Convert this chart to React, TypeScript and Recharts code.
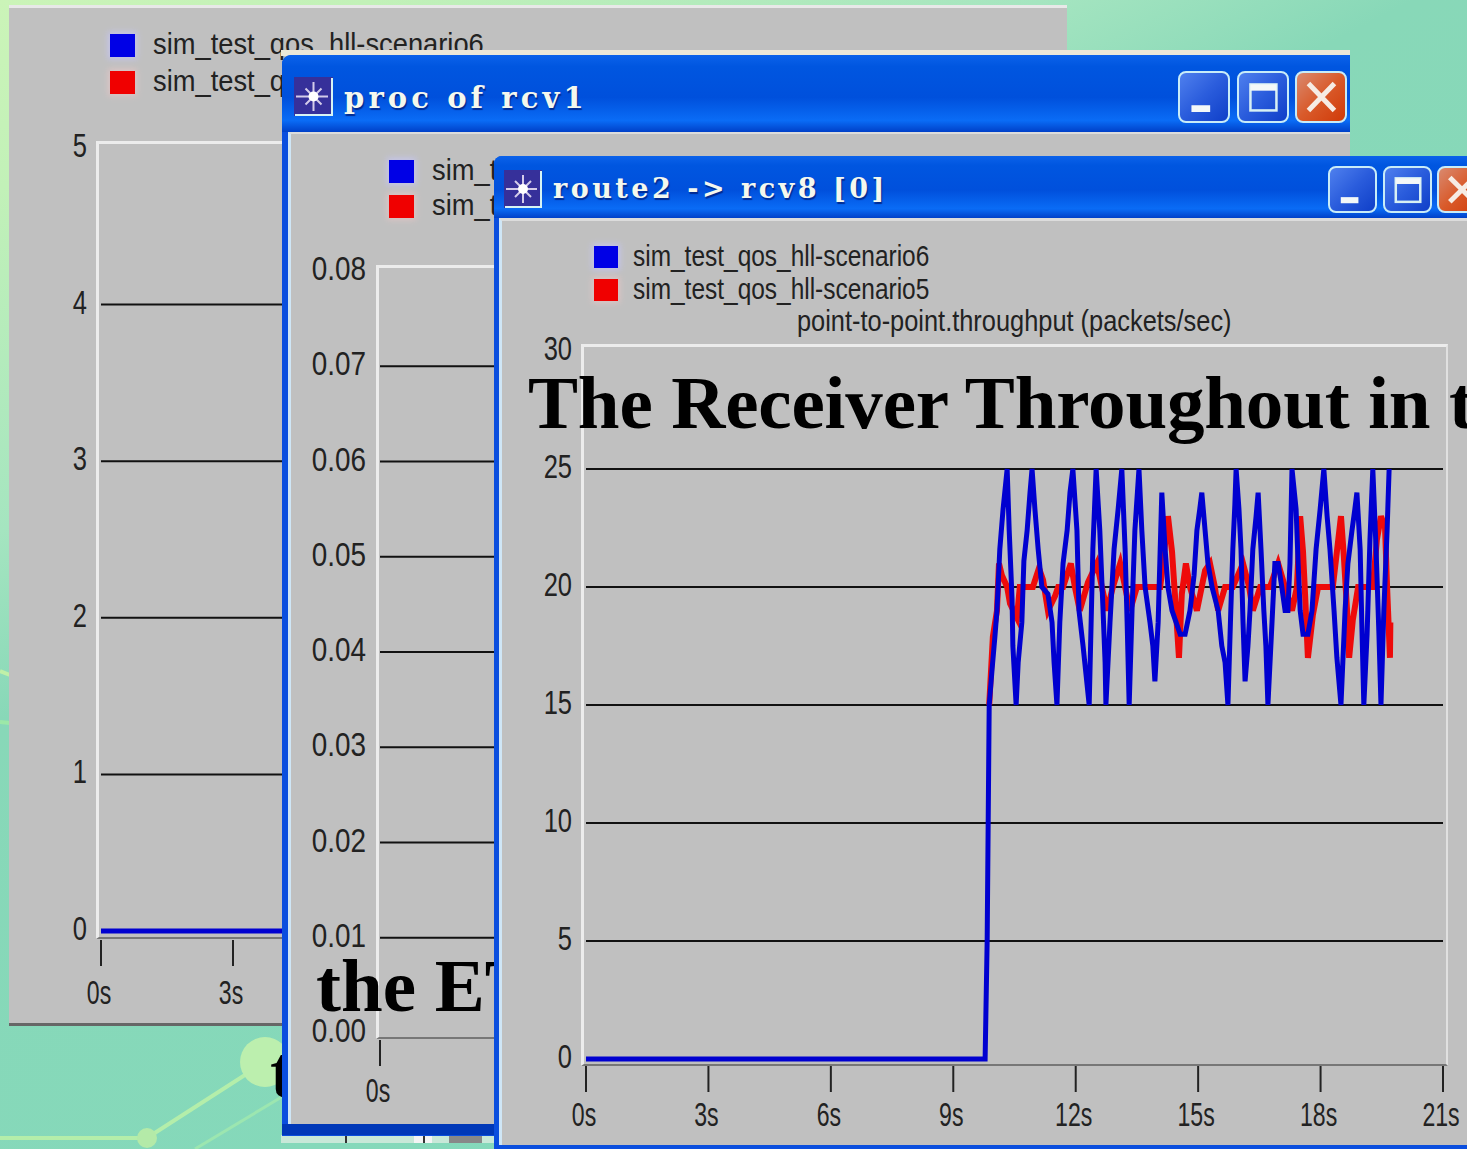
import * as React from "react"
import { LineChart, Line, XAxis, YAxis, CartesianGrid } from "recharts"

// route2 -> rcv8 throughput
const blueTimes = [0, 9.78, 9.83, 9.88, 9.95, 10.02, 10.07, 10.14, 10.22, 10.32, 10.37, 10.44, 10.46, 10.54, 10.59, 10.68, 10.73, 10.81, 10.88, 10.93, 11.0, 11.08, 11.17, 11.32, 11.42, 11.47, 11.54, 11.61, 11.69, 11.79, 11.86, 11.93, 12.03, 12.08, 12.18, 12.33, 12.42, 12.5, 12.59, 12.67, 12.72, 12.74, 12.84, 12.94, 13.04, 13.13, 13.21, 13.26, 13.31, 13.38, 13.45, 13.55, 13.62, 13.7, 13.82, 13.89, 13.94, 14.02, 14.07, 14.11, 14.19, 14.26, 14.36, 14.46, 14.56, 14.68, 14.8, 14.9, 14.97, 15.04, 15.09, 15.17, 15.24, 15.34, 15.49, 15.58, 15.66, 15.73, 15.8, 15.85, 15.9, 15.93, 16.0, 16.05, 16.1, 16.15, 16.22, 16.27, 16.34, 16.42, 16.47, 16.54, 16.61, 16.66, 16.71, 16.81, 16.88, 16.96, 17.05, 17.13, 17.2, 17.25, 17.3, 17.4, 17.45, 17.5, 17.57, 17.69, 17.79, 17.89, 17.99, 18.08, 18.16, 18.23, 18.33, 18.4, 18.5, 18.6, 18.67, 18.77, 18.84, 18.89, 18.97, 19.01, 19.06, 19.14, 19.21, 19.28, 19.36, 19.43, 19.48, 19.55, 19.63, 19.68]
const blueValues = [0, 0, 5, 15, 16.5, 17.9, 19, 21.6, 23.3, 25, 22.4, 19.5, 17.5, 15, 16.8, 18.5, 21.1, 22.4, 24, 25, 23.3, 21.6, 20, 19.7, 18.5, 16.8, 15, 18.5, 21, 22.4, 24, 25, 22.4, 19, 17.5, 15, 21.6, 25, 22.4, 19, 16.8, 15, 18.5, 21.6, 23.3, 25, 21.6, 18.5, 15, 19, 22.4, 25, 22.4, 20, 18.5, 17.5, 16, 18.5, 21.6, 24, 21.6, 20, 19, 18.5, 18, 18, 19, 20.5, 22.4, 23.3, 24, 22.4, 21, 20, 19, 17.5, 16.8, 15, 19, 21.6, 23.5, 25, 23.3, 21.6, 18.5, 16, 17.5, 19, 21.6, 23, 24, 21.6, 19, 17.5, 15, 18.5, 21, 21, 20, 19, 19, 21, 25, 23.3, 21, 19, 18, 18, 19, 21.6, 23.3, 25, 23, 21.6, 19, 17, 15, 19, 21, 22.4, 23.3, 24, 21.6, 18.5, 15, 18, 22, 25, 21.6, 18, 15, 19, 22.4, 25]

const redTimes = [9.88, 9.97, 10.07, 10.12, 10.19, 10.32, 10.39, 10.56, 10.63, 10.76, 10.95, 11.1, 11.2, 11.32, 11.49, 11.57, 11.69, 11.88, 11.98, 12.1, 12.3, 12.52, 12.64, 12.77, 12.91, 13.09, 13.21, 13.33, 13.5, 14.07, 14.14, 14.26, 14.36, 14.43, 14.53, 14.6, 14.7, 14.8, 14.97, 15.17, 15.29, 15.41, 15.49, 15.66, 15.85, 16.1, 16.25, 16.34, 16.52, 16.76, 16.96, 17.13, 17.3, 17.42, 17.5, 17.57, 17.62, 17.69, 17.81, 17.94, 18.3, 18.4, 18.5, 18.57, 18.65, 18.7, 18.79, 18.92, 19.28, 19.38, 19.48, 19.58, 19.63, 19.7, 19.71]
const redValues = [15, 17.9, 19, 21, 20.5, 20, 19.3, 18.7, 20, 20, 20, 20.8, 20.3, 19, 19.6, 20, 20, 21, 20, 19, 20.2, 21, 20, 19, 20, 21, 20, 19, 20, 20, 21, 23, 21.5, 19.7, 17, 19.7, 21, 20, 19, 20.7, 21, 20, 19, 20, 20, 21, 20, 19, 20, 20, 21, 20, 19, 20, 23, 21.5, 19.7, 17, 18.8, 20, 20, 21.5, 23, 21.3, 19, 17, 18.6, 20, 20, 22, 23, 22.5, 20, 17, 18.5]

// the back window only shows its flat start
const flatTimes = [0, 21]
const backValues = [0, 0]
// rcv1 shows nothing left of the front window
const procTimes = [10, 20]
const procValues = [0, 0]

const seriesNames = ["sim_test_qos_hll-scenario6", "sim_test_qos_hll-scenario5"]
const timeTicks = [0, 3, 6, 9, 12, 15, 18, 21]
const backTicks = [0, 1, 2, 3, 4, 5]
const procTicks = [0, 0.01, 0.02, 0.03, 0.04, 0.05, 0.06, 0.07, 0.08]
const procLabels = ["0.00", "0.01", "0.02", "0.03", "0.04", "0.05", "0.06", "0.07", "0.08"]
const routeTicks = [0, 5, 10, 15, 20, 25, 30]

const zip = (ts: number[], vs: number[]) => ts.map((t, i) => ({ t, v: vs[i] }))

const GRAY = "#c0c0c0"
const BLUE = "#0000d0"
const RED = "#ee0a0a"
const sansFont = "'Liberation Sans', Arial, sans-serif"
const AXIS_W = 60
const AXIS_H = 60

const abs = (left: number, top: number, width: number, height: number): React.CSSProperties => ({
  position: "absolute", left, top, width, height,
})

function XTick({ x, payload, plotBottom, tickShift, labelShift }: any) {
  return (
    <g>
      <line x1={x} x2={x} y1={plotBottom + 7 + tickShift} y2={plotBottom + 33 + tickShift} stroke="#222" strokeWidth={2} />
      <text transform={`translate(${x - 2} ${plotBottom + 67 + labelShift}) scale(0.7 1)`} textAnchor="middle" fontFamily={sansFont} fontSize={33} fill="#222">
        {payload.value}s
      </text>
    </g>
  )
}

function YTick({ y, payload, labels, values, plotLeft }: any) {
  const i = values.indexOf(payload.value)
  return (
    <text transform={`translate(${plotLeft - 14} ${y + 9}) scale(${labels ? 0.82 : 0.75} 1)`} textAnchor="end" fontFamily={sansFont} fontSize={34} fill="#222">
      {labels ? labels[i] : payload.value}
    </text>
  )
}

interface SimChartProps {
  left: number
  right: number
  top: number
  bottom: number
  frame: { left: number; top: number; right: number; bottom: number }
  domain: [number, number]
  ticks: number[]
  labels?: string[]
  grid: number[]
  tickShift?: number
  labelShift?: number
  series: { data: { t: number; v: number }[]; color: string; width: number }[]
}

// one OPNET style panel, the svg covers the page so margins are page coordinates
function SimChart({ left, right, top, bottom, frame, domain, ticks, labels, grid, tickShift = 0, labelShift = 0, series }: SimChartProps) {
  return (
    <>
      <div style={{
        ...abs(frame.left, frame.top, frame.right - frame.left, frame.bottom - frame.top),
        boxSizing: "border-box",
        borderLeft: "3px solid #ececec",
        borderTop: "3px solid #ececec",
        borderRight: "2px solid #e0e0e0",
        borderBottom: "2px solid #777",
      }} />
      <div style={abs(0, 0, 1467, 1149)}>
        <LineChart
          width={1467}
          height={1149}
          margin={{ left: left - AXIS_W, top, right: 1467 - right, bottom: 1149 - bottom - AXIS_H }}
        >
          <CartesianGrid vertical={false} horizontalValues={grid} stroke="#111" strokeWidth={2} />
          <XAxis
            dataKey="t"
            type="number"
            domain={[0, 21]}
            ticks={timeTicks}
            interval={0}
            height={AXIS_H}
            axisLine={false}
            tickLine={false}
            tick={(p: any) => <XTick {...p} plotBottom={bottom} tickShift={tickShift} labelShift={labelShift} />}
          />
          <YAxis
            type="number"
            domain={domain}
            ticks={ticks}
            interval={0}
            width={AXIS_W}
            axisLine={false}
            tickLine={false}
            tick={(p: any) => <YTick {...p} labels={labels} values={ticks} plotLeft={left} />}
          />
          {series.map((s, i) => (
            <Line
              key={i}
              data={s.data}
              dataKey="v"
              type="linear"
              stroke={s.color}
              strokeWidth={s.width}
              strokeLinejoin="miter"
              dot={false}
              isAnimationActive={false}
            />
          ))}
        </LineChart>
      </div>
    </>
  )
}

function NarrowText({ x, y, children, scale = 0.815, size = 30 }: { x: number; y: number; children: React.ReactNode; scale?: number; size?: number }) {
  return (
    <div style={{
      position: "absolute", left: x, top: y - size * 0.6, whiteSpace: "nowrap", lineHeight: 1.2,
      fontFamily: sansFont, fontSize: size, color: "#222",
      transform: `scaleX(${scale})`, transformOrigin: "left center",
    }}>
      {children}
    </div>
  )
}

function ChartLegend({ x, y1, y2, textX, size, textScale }: { x: number; y1: number; y2: number; textX: number; size: number; textScale?: number }) {
  return (
    <>
      <div style={{ ...abs(x, y1 - size / 2, size + 2, size), background: "#0000e6", boxShadow: "0 0 6px 2px #c4c4ec" }} />
      <div style={{ ...abs(x, y2 - size / 2, size + 2, size), background: "#f00000", boxShadow: "0 0 6px 2px #ddc4c4" }} />
      <NarrowText x={textX} y={y1 - 1} scale={textScale}>{seriesNames[0]}</NarrowText>
      <NarrowText x={textX} y={y2 - 1} scale={textScale}>{seriesNames[1]}</NarrowText>
    </>
  )
}

function Icon({ x, y, size }: { x: number; y: number; size: number }) {
  const c = size / 2
  return (
    <svg style={abs(x, y, size, size)} viewBox={`0 0 ${size} ${size}`}>
      <rect width={size} height={size} fill="#36309a" />
      <path d={`M1 ${size - 1} H${size - 1} V1`} fill="none" stroke="#d8f4f4" strokeWidth={2} />
      <path d={`M2 ${c} H${size - 5} M${c} 5 V${size - 5} M${c - 8} ${c - 8} L${c + 8} ${c + 8} M${c + 8} ${c - 8} L${c - 8} ${c + 8}`} stroke="#f0e8f8" strokeWidth={2} opacity={0.85} />
      <circle cx={c} cy={c} r={5} fill="#fff" />
    </svg>
  )
}

function XpButton({ x, y, w, h, kind }: { x: number; y: number; w: number; h: number; kind: "min" | "max" | "close" }) {
  const bg = kind === "close"
    ? "linear-gradient(135deg,#d98a70,#d95a2a 50%,#d03a08)"
    : "linear-gradient(135deg,#4f80ee,#2a5cdc 50%,#0f3fc8)"
  return (
    <div style={{ ...abs(x, y, w, h), boxSizing: "border-box", border: "2px solid #c8ecf8", borderRadius: 8, background: bg }}>
      <svg width={w - 4} height={h - 4} style={{ display: "block" }}>
        {kind === "min" && <rect x={w * 0.22} y={h * 0.62} width={w * 0.36} height={h * 0.13} fill="#f4f8f8" />}
        {kind === "max" && (
          <g>
            <rect x={w * 0.22} y={h * 0.22} width={w * 0.5} height={h * 0.5} fill="none" stroke="#d8f0f4" strokeWidth={2.5} />
            <rect x={w * 0.22} y={h * 0.22} width={w * 0.5} height={h * 0.12} fill="#f4f8f8" />
          </g>
        )}
        {kind === "close" && (
          <path d={`M${w * 0.22} ${h * 0.2} L${w * 0.72} ${h * 0.72} M${w * 0.72} ${h * 0.2} L${w * 0.22} ${h * 0.72}`} stroke="#f6ece4" strokeWidth={5} />
        )}
      </svg>
    </div>
  )
}

function Title({ x, y, size, spacing, children }: { x: number; y: number; size: number; spacing: number; children: string }) {
  return (
    <div style={{
      position: "absolute", left: x, top: y - size * 0.62, lineHeight: 1.2, whiteSpace: "pre",
      fontFamily: "'DejaVu Serif', serif", fontWeight: 700, fontSize: size, letterSpacing: spacing,
      color: "#f4f8ee", textShadow: "1px 2px 1px #002a90",
    }}>
      {children}
    </div>
  )
}

const barGradient = "linear-gradient(to bottom,#0b62ea 0%,#0056e0 15%,#0050dc 55%,#0a6cf6 85%,#0040c8 100%)"
const bigText: React.CSSProperties = {
  position: "absolute", fontFamily: "'Liberation Serif', serif", fontWeight: 700, fontSize: 75,
  color: "#000", lineHeight: 1.2, whiteSpace: "nowrap",
}

export default function App() {
  return (
    <div style={{
      ...abs(0, 0, 1467, 1149),
      overflow: "hidden",
      background: "linear-gradient(153deg,#cbf4b8 0%,#c2f1b8 10%,#a5e5c0 28%,#88d8b8 38%,#82d9bc 100%)",
    }}>
      {/* slide decoration */}
      <svg style={abs(0, 0, 1467, 1149)}>
        <path d="M0 1138 H147 L265 1062" fill="none" stroke="#b4eeaa" strokeWidth={4} />
        <path d="M195 1149 L285 1095" fill="none" stroke="#9ce6b0" strokeWidth={3} />
        <circle cx={147} cy={1138} r={10} fill="#b4eaa8" />
        <circle cx={265} cy={1062} r={25} fill="#bcefae" />
        <path d="M0 671 L10 675" stroke="#c0f0a8" strokeWidth={4} />
        <path d="M0 722 L10 723" stroke="#9ce8a8" strokeWidth={4} />
      </svg>
      <div style={{ ...bigText, left: 270, top: 1027 }}>t</div>

      {/* back window */}
      <div style={{ ...abs(9, 5, 1058, 1021), background: GRAY, boxSizing: "border-box", borderTop: "3px solid #e8e8e8", borderBottom: "3px solid #666" }} />
      <ChartLegend x={110} y1={45} y2={82} textX={153} size={23} textScale={0.91} />
      <SimChart
        left={101}
        right={1025}
        top={148}
        bottom={931}
        frame={{ left: 96, top: 141, right: 1040, bottom: 939 }}
        domain={[0, 5]}
        ticks={backTicks}
        grid={[1, 2, 3, 4]}
        tickShift={2}
        labelShift={6}
        series={[{ data: zip(flatTimes, backValues), color: BLUE, width: 5 }]}
      />

      {/* proc of rcv1 */}
      <div style={{ ...abs(281, 50, 1069, 6), background: "#ece8d8" }} />
      <div style={{ ...abs(281, 1135, 213, 8), background: "#c8e8d8" }} />
      <div style={{ ...abs(345, 1135, 2, 8), background: "#333" }} />
      <div style={{ ...abs(414, 1135, 18, 8), background: "#f4f4f4" }} />
      <div style={{ ...abs(423, 1135, 2, 8), background: "#333" }} />
      <div style={{ ...abs(449, 1135, 33, 8), background: "#888" }} />
      <div style={{ ...abs(282, 55, 1068, 1081), background: "#0a4ede", borderRadius: "9px 0 0 0" }} />
      <div style={{ ...abs(282, 55, 1068, 77), background: barGradient, borderRadius: "9px 0 0 0" }} />
      <div style={{ ...abs(288, 132, 1062, 992), background: GRAY, boxSizing: "border-box", borderLeft: "3px solid #cfe6f6", borderTop: "2px solid #dcdcdc" }} />
      <div style={{ ...abs(282, 1124, 212, 11), background: "#0038b8" }} />
      <Icon x={294} y={77} size={39} />
      <Title x={344} y={99} size={29} spacing={4.1}>proc of rcv1</Title>
      <XpButton x={1178} y={71} w={52} h={52} kind="min" />
      <XpButton x={1237} y={71} w={52} h={52} kind="max" />
      <XpButton x={1295} y={71} w={52} h={52} kind="close" />
      <ChartLegend x={389} y1={171} y2={206} textX={432} size={23} textScale={0.91} />
      <SimChart
        left={380}
        right={1304}
        top={271}
        bottom={1033}
        frame={{ left: 376, top: 265, right: 1320, bottom: 1039 }}
        domain={[0, 0.08]}
        ticks={procTicks}
        labels={procLabels}
        grid={[0.01, 0.02, 0.03, 0.04, 0.05, 0.06, 0.07]}
        labelShift={2}
        series={[{ data: zip(procTimes, procValues), color: BLUE, width: 4 }]}
      />
      <div style={{ ...bigText, left: 316, top: 941 }}>the ET</div>

      {/* route2 -> rcv8 */}
      <div style={{ ...abs(494, 156, 973, 993), background: "#0a4ede", borderRadius: "8px 0 0 0" }} />
      <div style={{ ...abs(494, 156, 973, 62), background: barGradient, borderRadius: "8px 0 0 0" }} />
      <div style={{ ...abs(499, 218, 968, 927), background: GRAY, boxSizing: "border-box", borderLeft: "3px solid #cfe6f6", borderTop: "3px solid #dcdcdc" }} />
      <Icon x={504} y={170} size={38} />
      <Title x={553} y={190} size={27} spacing={3.5}>{"route2 -> rcv8 [0]"}</Title>
      <XpButton x={1328} y={166} w={49} h={47} kind="min" />
      <XpButton x={1383} y={166} w={49} h={47} kind="max" />
      <XpButton x={1437} y={166} w={49} h={47} kind="close" />
      <ChartLegend x={594} y1={257} y2={290} textX={633} size={22} />
      <NarrowText x={797} y={321} scale={0.846}>point-to-point.throughput (packets/sec)</NarrowText>
      <SimChart
        left={586}
        right={1443}
        top={351}
        bottom={1059}
        frame={{ left: 581, top: 344, right: 1448, bottom: 1066 }}
        domain={[0, 30]}
        ticks={routeTicks}
        grid={[5, 10, 15, 20, 25]}
        series={[
          { data: zip(redTimes, redValues), color: RED, width: 6 },
          { data: zip(blueTimes, blueValues), color: BLUE, width: 5 },
        ]}
      />
      <div style={{ ...bigText, left: 528, top: 358, letterSpacing: -0.15 }}>
        The Receiver Throughout in the ETE
      </div>
    </div>
  )
}
